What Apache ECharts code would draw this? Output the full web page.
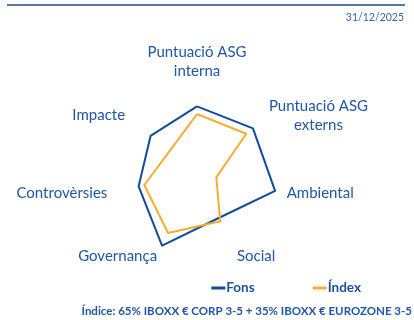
<!DOCTYPE html>
<html>
<head>
<meta charset="utf-8">
<script src="https://cdn.jsdelivr.net/npm/echarts@6/dist/echarts.min.js"></script>
<style>
  html, body { margin: 0; padding: 0; background: #fff; }
  #chart { width: 414px; height: 320px; }
</style>
</head>
<body>
<div id="chart"></div>
<script>
// axes in ECharts order (counter-clockwise from top)
var indicators = ['Puntuació ASG\ninterna', 'Impacte', 'Controvèrsies', 'Governança', 'Social', 'Ambiental', 'Puntuació ASG\nexterns'];
var fonsValues = [74, 66, 66.5, 89.5, 55.5, 89, 79.5];
var indexValues = [65.5, 39, 60, 74, 59.5, 22, 70];
var seriesNames = ['Fons', 'Índex'];

var blue = '#0f4c9c';
var orange = '#f5ad33';
var textBlue = '#2156a5';

var chart = echarts.init(document.getElementById('chart'));

var option = {
    animation: false,
    graphic: [
        { type: 'line', shape: { x1: 7, y1: 5, x2: 405, y2: 5 }, style: { stroke: '#1d4b8f', lineWidth: 1.5 } },
        { type: 'text', right: 10, top: 12, style: { text: '31/12/2025', fill: '#3a62a8', font: '10.5px Lato' } },
        { type: 'text', right: 2, top: 305, style: { text: 'Índice: 65% IBOXX € CORP 3-5 + 35% IBOXX € EUROZONE 3-5', fill: '#2156a5', font: 'bold 11.5px Lato' } }
    ],
    legend: {
        right: 48,
        top: 276,
        itemGap: 58,
        itemWidth: 14,
        itemHeight: 3,
        icon: 'rect',
        textStyle: { color: '#1f4f9c', fontFamily: 'Lato', fontWeight: 'bold', fontSize: 13.5, padding: [0, 0, 0, -4] },
        data: seriesNames
    },
    radar: {
        center: [197, 173],
        radius: 90,
        startAngle: 90,
        nameGap: 2,
        splitNumber: 1,
        shape: 'polygon',
        axisLine: { show: false },
        splitLine: { show: false },
        splitArea: { show: false },
        axisTick: { show: false },
        axisName: {
            color: textBlue,
            fontFamily: 'Lato',
            fontSize: 15,
            lineHeight: 19,
            formatter: function (name) {
                return name.split('\n').map(function (s) { return '{c|' + s + '}'; }).join('\n');
            },
            rich: {
                c: { align: 'center', color: textBlue, fontFamily: 'Lato', fontSize: 15, lineHeight: 19 }
            }
        },
        indicator: indicators.map(function (n) { return { name: n, max: 100, min: 0 }; })
    },
    series: [{
        type: 'radar',
        symbol: 'none',
        data: [
            { name: seriesNames[0], value: fonsValues, lineStyle: { color: blue, width: 2 }, itemStyle: { color: blue } },
            { name: seriesNames[1], value: indexValues, lineStyle: { color: orange, width: 2 }, itemStyle: { color: orange } }
        ]
    }]
};

chart.setOption(option);
</script>
</body>
</html>
